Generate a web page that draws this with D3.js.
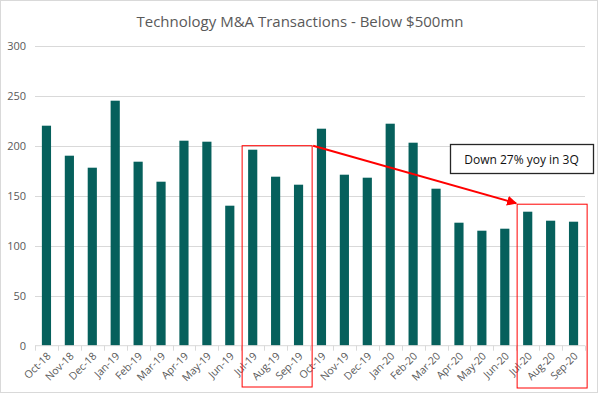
<!DOCTYPE html>
<html>
<head>
<meta charset="utf-8">
<script src="https://cdn.jsdelivr.net/npm/d3@7"></script>
<style>
  body { margin: 0; background: #fff; }
  svg { display: block; font-family: "Open Sans", "Liberation Sans", sans-serif; }
</style>
</head>
<body>
<svg width="600" height="395"></svg>
<script>
// monthly deal counts
var months = ["Oct-18", "Nov-18", "Dec-18", "Jan-19", "Feb-19", "Mar-19", "Apr-19", "May-19",
  "Jun-19", "Jul-19", "Aug-19", "Sep-19", "Oct-19", "Nov-19", "Dec-19", "Jan-20",
  "Feb-20", "Mar-20", "Apr-20", "May-20", "Jun-20", "Jul-20", "Aug-20", "Sep-20"];
var deals = [220, 190, 178, 245, 184, 164, 205, 204, 140, 196, 169, 161,
  217, 171, 168, 222, 203, 157, 123, 115, 117, 134, 125, 124];
var yTicks = [0, 50, 100, 150, 200, 250, 300];
var title = "Technology M&A Transactions - Below $500mn";
var note = "Down 27% yoy in 3Q";
// the two quarters that are compared
var q3_2019 = ["Jul-19", "Aug-19", "Sep-19"];
var q3_2020 = ["Jul-20", "Aug-20", "Sep-20"];

var data = months.map(function(m, i) { return { month: m, value: deals[i] }; });

var svg = d3.select("svg");
var margin = { left: 35, right: 15, top: 45.7, bottom: 49.3 };
var width = 600, height = 395;

var x = d3.scaleBand()
  .domain(months)
  .range([margin.left, width - margin.right])
  .paddingInner(0.6)
  .paddingOuter(0.3);

var y = d3.scaleLinear()
  .domain([0, 300])
  .range([height - margin.bottom, margin.top]);

// chart border
svg.append("rect")
  .attr("x", 0.5).attr("y", 0.5)
  .attr("width", 597).attr("height", 392)
  .attr("fill", "none")
  .attr("stroke", "#d9d9d9");

svg.append("text")
  .attr("x", 300).attr("y", 27)
  .attr("text-anchor", "middle")
  .attr("font-size", 15)
  .attr("fill", "#595959")
  .text(title);

// gridlines
svg.append("g")
  .selectAll("line")
  .data(yTicks.slice(1))
  .enter()
  .append("line")
  .attr("x1", margin.left)
  .attr("x2", width - margin.right)
  .attr("y1", function(d) { return Math.round(y(d)) + 0.5; })
  .attr("y2", function(d) { return Math.round(y(d)) + 0.5; })
  .attr("stroke", "#d9d9d9");

// y axis labels
var yAxis = d3.axisLeft(y).tickValues(yTicks).tickSize(0).tickPadding(9);
var gy = svg.append("g")
  .attr("transform", "translate(" + margin.left + ",0)")
  .call(yAxis);
gy.select(".domain").remove();
gy.selectAll("text")
  .attr("font-size", 11)
  .attr("fill", "#595959")
  .attr("font-family", "\"Open Sans\", sans-serif");

// bars
svg.append("g")
  .selectAll("rect")
  .data(data)
  .enter()
  .append("rect")
  .attr("x", function(d) { return x(d.month); })
  .attr("y", function(d) { return y(d.value); })
  .attr("width", x.bandwidth())
  .attr("height", function(d) { return y(0) - y(d.value); })
  .attr("fill", "#06605c");

// x axis with ticks at category edges
var step = x.step();
var edges = months.map(function(m) { return x(m) - (step - x.bandwidth()) / 2; });
edges.push(width - margin.right);
var gx = svg.append("g");
gx.append("line")
  .attr("x1", margin.left).attr("x2", width - margin.right)
  .attr("y1", y(0)).attr("y2", y(0))
  .attr("stroke", "#d9d9d9");
gx.selectAll("line.tick")
  .data(edges)
  .enter()
  .append("line")
  .attr("class", "tick")
  .attr("x1", function(d) { return Math.round(d) + 0.5; })
  .attr("x2", function(d) { return Math.round(d) + 0.5; })
  .attr("y1", y(0)).attr("y2", y(0) + 5)
  .attr("stroke", "#d9d9d9");
gx.selectAll("text")
  .data(months)
  .enter()
  .append("text")
  .attr("transform", function(d) {
    return "translate(" + (x(d) + x.bandwidth() / 2 + 5) + "," + (y(0) + 11) + ") rotate(-45)";
  })
  .attr("text-anchor", "end")
  .attr("font-size", 10.5)
  .attr("fill", "#595959")
  .text(function(d) { return d; });

// highlight boxes around the quarters
function quarterBox(list, top, bottom) {
  var x0 = x(list[0]) - 6;
  var x1 = x(list[list.length - 1]) + x.bandwidth() + 9;
  svg.append("rect")
    .attr("x", x0).attr("y", y(top))
    .attr("width", x1 - x0)
    .attr("height", bottom - y(top))
    .attr("fill", "none")
    .attr("stroke", "#ff0000")
    .attr("stroke-width", 1);
  return { x0: x0, x1: x1 };
}
var b1 = quarterBox(q3_2019, 200, 387);
var b2 = quarterBox(q3_2020, 141.5, 388);

// arrow
svg.append("defs").append("marker")
  .attr("id", "arrow")
  .attr("viewBox", "0 0 10 10")
  .attr("refX", 9).attr("refY", 5)
  .attr("markerWidth", 5).attr("markerHeight", 5)
  .attr("orient", "auto")
  .append("path")
  .attr("d", "M0,0L10,5L0,10Z")
  .attr("fill", "#ff0000");
svg.append("line")
  .attr("x1", b1.x1 + 1).attr("y1", y(200))
  .attr("x2", b2.x0 - 1).attr("y2", y(141.5) - 1)
  .attr("stroke", "#ff0000")
  .attr("stroke-width", 2)
  .attr("marker-end", "url(#arrow)");

// annotation
svg.append("rect")
  .attr("x", 450.5).attr("y", 144.5)
  .attr("width", 143).attr("height", 29)
  .attr("fill", "#fff")
  .attr("stroke", "#262626")
  .attr("stroke-width", 1.3);
svg.append("text")
  .attr("x", 521.5).attr("y", 164)
  .attr("text-anchor", "middle")
  .attr("font-size", 12)
  .attr("fill", "#111")
  .text(note);
</script>
</body>
</html>
